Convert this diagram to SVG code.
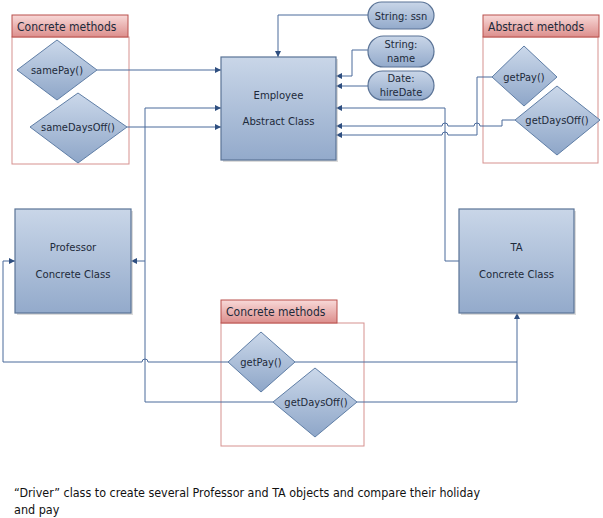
<svg xmlns="http://www.w3.org/2000/svg" width="603" height="518" viewBox="0 0 603 518">
<defs>
<linearGradient id="gBox" x1="0" y1="0" x2="0" y2="1">
<stop offset="0" stop-color="#c9d6e8"/>
<stop offset="1" stop-color="#93aacb"/>
</linearGradient>
<linearGradient id="gDia" x1="0" y1="0" x2="0" y2="1">
<stop offset="0" stop-color="#cbd8ea"/>
<stop offset="1" stop-color="#8ea6c8"/>
</linearGradient>
<linearGradient id="gHead" x1="0" y1="0" x2="0" y2="1">
<stop offset="0" stop-color="#f8d9d8"/>
<stop offset="1" stop-color="#dc8e8c"/>
</linearGradient>
<marker id="arr" markerWidth="7" markerHeight="6" refX="6" refY="3" orient="auto" markerUnits="userSpaceOnUse">
<path d="M0,0 L6,3 L0,6 Z" fill="#2f4f80"/>
</marker>
</defs>
<style>
text{font-family:"DejaVu Sans Condensed","DejaVu Sans",sans-serif;font-stretch:condensed;fill:#1d2a3a;}
.box{fill:url(#gBox);stroke:#5a7396;stroke-width:1.2;}
.sh{fill:#b8b8b8;opacity:0.5;}
.dia{fill:url(#gDia);stroke:#5f7ea6;stroke-width:1;}
.pill{fill:url(#gBox);stroke:#5a7396;stroke-width:1.2;}
.head{fill:url(#gHead);stroke:#b9504d;stroke-width:1;}
.body{fill:#ffffff;stroke:#d6918f;stroke-width:1;}
.lbl{font-size:11.2px;text-anchor:middle;}
.sm{font-size:11px;text-anchor:middle;}
.hd{font-size:12px;}
.con path{fill:none;stroke:#4b6a9b;stroke-width:1;}
.note{font-size:12.5px;fill:#111;}
</style>

<g id="concrete-top">
<rect class="body" x="12" y="37" width="117" height="127"/>
<rect class="head" x="12" y="15" width="116" height="22"/>
<text class="hd" x="17" y="30.5">Concrete methods</text>
</g>
<g id="abstract-methods">
<rect class="body" x="483" y="37" width="115" height="126"/>
<rect class="head" x="483" y="15" width="116" height="22"/>
<text class="hd" x="488" y="30.5">Abstract methods</text>
</g>
<g id="concrete-bottom">
<rect class="body" x="221" y="323" width="143" height="123"/>
<rect class="head" x="221" y="300" width="116" height="23"/>
<text class="hd" x="226" y="316">Concrete methods</text>
</g>

<g class="con" id="connectors">
<path d="M97,70 H221" marker-end="url(#arr)"/>
<path d="M127,127 H221" marker-end="url(#arr)"/>
<path d="M273,402 H145 V108 H221" marker-end="url(#arr)"/>
<path d="M145,261 H131" marker-end="url(#arr)"/>
<path d="M228,362 H148 a3,3 0 0 0 -6,0 H3 V261 H15" marker-end="url(#arr)"/>
<path d="M295,362 H517"/>
<path d="M357,402 H517 V313" marker-end="url(#arr)"/>
<path d="M459,261 H445 V108 H336" marker-end="url(#arr)"/>
<path d="M368,15 H278 V57" marker-end="url(#arr)"/>
<path d="M368,50 H352 V76 H336" marker-end="url(#arr)"/>
<path d="M368,86 H336" marker-end="url(#arr)"/>
<path d="M492,77 H477 V135 H448 a3,3 0 0 0 -6,0 H336" marker-end="url(#arr)"/>
<path d="M515,120 H502 V126 H480 a3,3 0 0 0 -6,0 H448 a3,3 0 0 0 -6,0 H336" marker-end="url(#arr)"/>
</g>

<g id="employee">
<rect class="sh" x="223" y="59" width="115" height="103"/>
<rect class="box" x="221" y="57" width="115" height="103"/>
<text class="lbl" x="278.5" y="99">Employee</text>
<text class="lbl" x="278.5" y="125">Abstract Class</text>
</g>
<g id="professor">
<rect class="sh" x="17" y="211" width="116" height="104"/>
<rect class="box" x="15" y="209" width="116" height="104"/>
<text class="lbl" x="73" y="251">Professor</text>
<text class="lbl" x="73" y="278">Concrete Class</text>
</g>
<g id="ta">
<rect class="sh" x="461" y="211" width="115" height="104"/>
<rect class="box" x="459" y="209" width="115" height="104"/>
<text class="lbl" x="516.5" y="251">TA</text>
<text class="lbl" x="516.5" y="278">Concrete Class</text>
</g>

<g id="ssn">
<rect class="pill" x="368" y="2" width="66" height="27" rx="13.5"/>
<text class="sm" x="401" y="20">String: ssn</text>
</g>
<g id="name">
<rect class="pill" x="368" y="36" width="66" height="31" rx="15.5"/>
<text class="sm" x="401" y="48">String:</text>
<text class="sm" x="401" y="62">name</text>
</g>
<g id="hireDate">
<rect class="pill" x="368" y="71" width="66" height="29" rx="14.5"/>
<text class="sm" x="401" y="82">Date:</text>
<text class="sm" x="401" y="96">hireDate</text>
</g>

<g id="samePay">
<polygon class="dia" points="17,70 57,40 97,70 57,100"/>
<text class="sm" x="57" y="74">samePay()</text>
</g>
<g id="sameDaysOff">
<polygon class="dia" points="30,127 78,93 127,127 78,163"/>
<text class="sm" x="78" y="131">sameDaysOff()</text>
</g>
<g id="getPay-abstract">
<polygon class="dia" points="492,77 524,46 557,77 524,106"/>
<text class="sm" x="524" y="81">getPay()</text>
</g>
<g id="getDaysOff-abstract">
<polygon class="dia" points="515,120 557,86 600,120 557,155"/>
<text class="sm" x="557" y="124">getDaysOff()</text>
</g>
<g id="getPay-concrete">
<polygon class="dia" points="228,362 261,332 295,362 261,392"/>
<text class="sm" x="261" y="366">getPay()</text>
</g>
<g id="getDaysOff-concrete">
<polygon class="dia" points="273,402 315,368 357,402 315,437"/>
<text class="sm" x="316" y="406">getDaysOff()</text>
</g>

<text class="note" x="14" y="497" textLength="466" lengthAdjust="spacingAndGlyphs">“Driver” class to create several Professor and TA objects and compare their holiday</text>
<text class="note" x="14" y="514">and pay</text>
</svg>
